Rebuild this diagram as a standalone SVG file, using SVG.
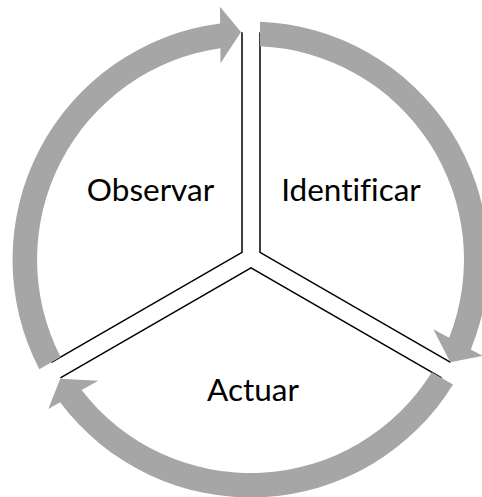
<svg xmlns="http://www.w3.org/2000/svg" width="482" height="497" viewBox="0 0 482 497">
<style>
.edge{fill:none;stroke:#000;stroke-width:1.5;stroke-linejoin:miter}
.band{fill:#A6A6A6;stroke:none}
.lbl{font-family:Lato,"Open Sans","Liberation Sans",sans-serif;font-size:31.5px;fill:#000;text-anchor:middle;font-variant-ligatures:none}
</style>
<rect width="482" height="497" fill="#fff"/>
<g id="observar">
<polyline class="edge" points="242,32.2 242,252.3 51.4,362.35"/>
<text class="lbl" x="150.5" y="201">Observar</text>
</g>
<g id="identificar">
<polyline class="edge" points="260,32.2 260,252.3 450.6,362.35"/>
<text class="lbl" x="351" y="201">Identificar</text>
</g>
<g id="actuar">
<polyline class="edge" points="60.4,377.95 251,267.9 441.6,377.95"/>
<text class="lbl" x="253" y="401">Actuar</text>
</g>
<g id="connectors">
<path class="band" d="M39.35 369.3 A238 238 0 0 1 220.1 23.5 L220 6.7 L241 32 L220.5 63.3 L220.4 48.2 A213.5 213.5 0 0 0 60.6 357 Z"/>
<path class="band" d="M260 21.7 A238 238 0 0 1 470.8 349.5 L482.5 355.8 L450.3 362.3 L433.3 329.3 L449.1 337.8 A213.5 213.5 0 0 0 260 46.2 Z"/>
<path class="band" d="M453 384.5 A238 238 0 0 1 60.1 402.3 L48.3 409 L60.2 378.8 L98.3 380.7 L81.6 390.1 A213.5 213.5 0 0 0 431.8 372.3 Z"/>
</g>
</svg>
